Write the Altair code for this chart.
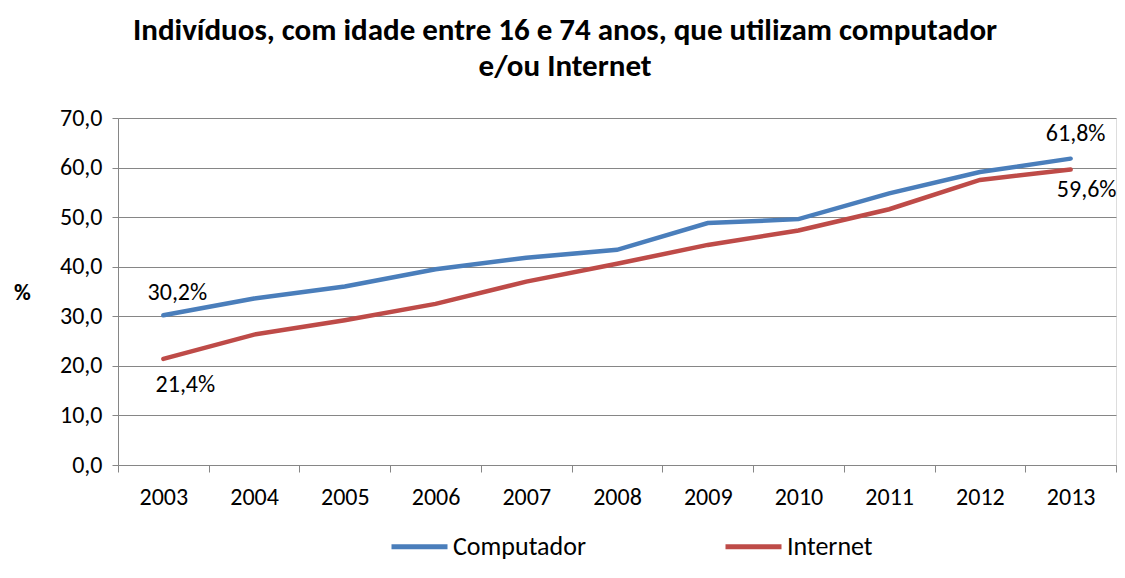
import altair as alt
import pandas as pd

years = ["2003", "2004", "2005", "2006", "2007", "2008", "2009", "2010", "2011", "2012", "2013"]
computador = [30.2, 33.6, 36.0, 39.5, 41.8, 43.4, 48.8, 49.6, 54.8, 59.1, 61.8]
internet = [21.4, 26.3, 29.2, 32.5, 37.0, 40.6, 44.4, 47.3, 51.6, 57.5, 59.6]
series = ["Computador", "Internet"]
colors = ["#4A7EBB", "#BE4B48"]

rows = []
for y, c, i in zip(years, computador, internet):
    rows.append({"ano": y, "serie": "Computador", "valor": c})
    rows.append({"ano": y, "serie": "Internet", "valor": i})
df = pd.DataFrame(rows)
df["rotulo"] = df["valor"].map(lambda v: f"{v:.1f}".replace(".", ",") + "%")

FONT = "Carlito, 'Liberation Sans Narrow', 'Noto Sans', sans-serif"
FS = 24

x = alt.X("ano:O", title=None,
          scale=alt.Scale(type="band", paddingInner=0, paddingOuter=0),
          axis=alt.Axis(labelAngle=0, tickBand="extent", tickSize=7, labelPadding=13,
                        labelFontSize=FS, labelFont=FONT, labelColor="#000000",
                        domainColor="#868686", tickColor="#868686", grid=False))
y = alt.Y("valor:Q", title="%",
          scale=alt.Scale(domain=[0, 70]),
          axis=alt.Axis(values=[0, 10, 20, 30, 40, 50, 60, 70],
                        labelExpr="replace(format(datum.value, '.1f'), '.', ',')",
                        labelFontSize=FS, labelFont=FONT, labelColor="#000000",
                        tickSize=6, labelPadding=10, tickColor="#868686",
                        domainColor="#868686", gridColor="#868686", gridWidth=1,
                        titleAngle=0, titleX=-96, titleY=174, titleAlign="center",
                        titleBaseline="middle", titleFontSize=23, titleFont=FONT,
                        titleFontWeight="bold", titleColor="#000000"))

color = alt.Color("serie:N", title=None,
                  scale=alt.Scale(domain=series, range=colors),
                  legend=alt.Legend(orient="none", legendX=271, legendY=398,
                                    direction="horizontal", symbolType="stroke",
                                    symbolStrokeWidth=5, symbolSize=3136,
                                    labelFontSize=26, labelFont=FONT, labelColor="#000000",
                                    columnPadding=129, symbolOffset=0, labelOffset=3))

lines = alt.Chart(df).mark_line(strokeWidth=4.5, strokeCap="round").encode(
    x=x, y=y, color=color)


def label(serie, ano, dx, dy):
    return alt.Chart(df).transform_filter(
        f"datum.serie == '{serie}' && datum.ano == '{ano}'"
    ).mark_text(fontSize=FS, font=FONT, color="#000000", dx=dx, dy=dy).encode(
        x="ano:O", y="valor:Q", text="rotulo:N")


chart = alt.layer(
    lines,
    label("Computador", "2003", 14, -22),
    label("Internet", "2003", 22, 26),
    label("Computador", "2013", 5, -25),
    label("Internet", "2013", 16, 20),
).properties(
    width=998, height=347,
    autosize=alt.AutoSizeParams(type="none"),
    padding={"left": 110, "top": 110, "right": 1, "bottom": 105},
    title=alt.TitleParams(
        text=["Indivíduos, com idade entre 16 e 74 anos, que utilizam computador", "e/ou Internet"],
        fontSize=31, font=FONT, fontWeight="bold", color="#000000",
        anchor="middle", frame="bounds", lineHeight=36, offset=23),
).configure_view(stroke=None).configure(background="white")

chart.save("out.html", embed_options={"renderer": "svg", "actions": False})
